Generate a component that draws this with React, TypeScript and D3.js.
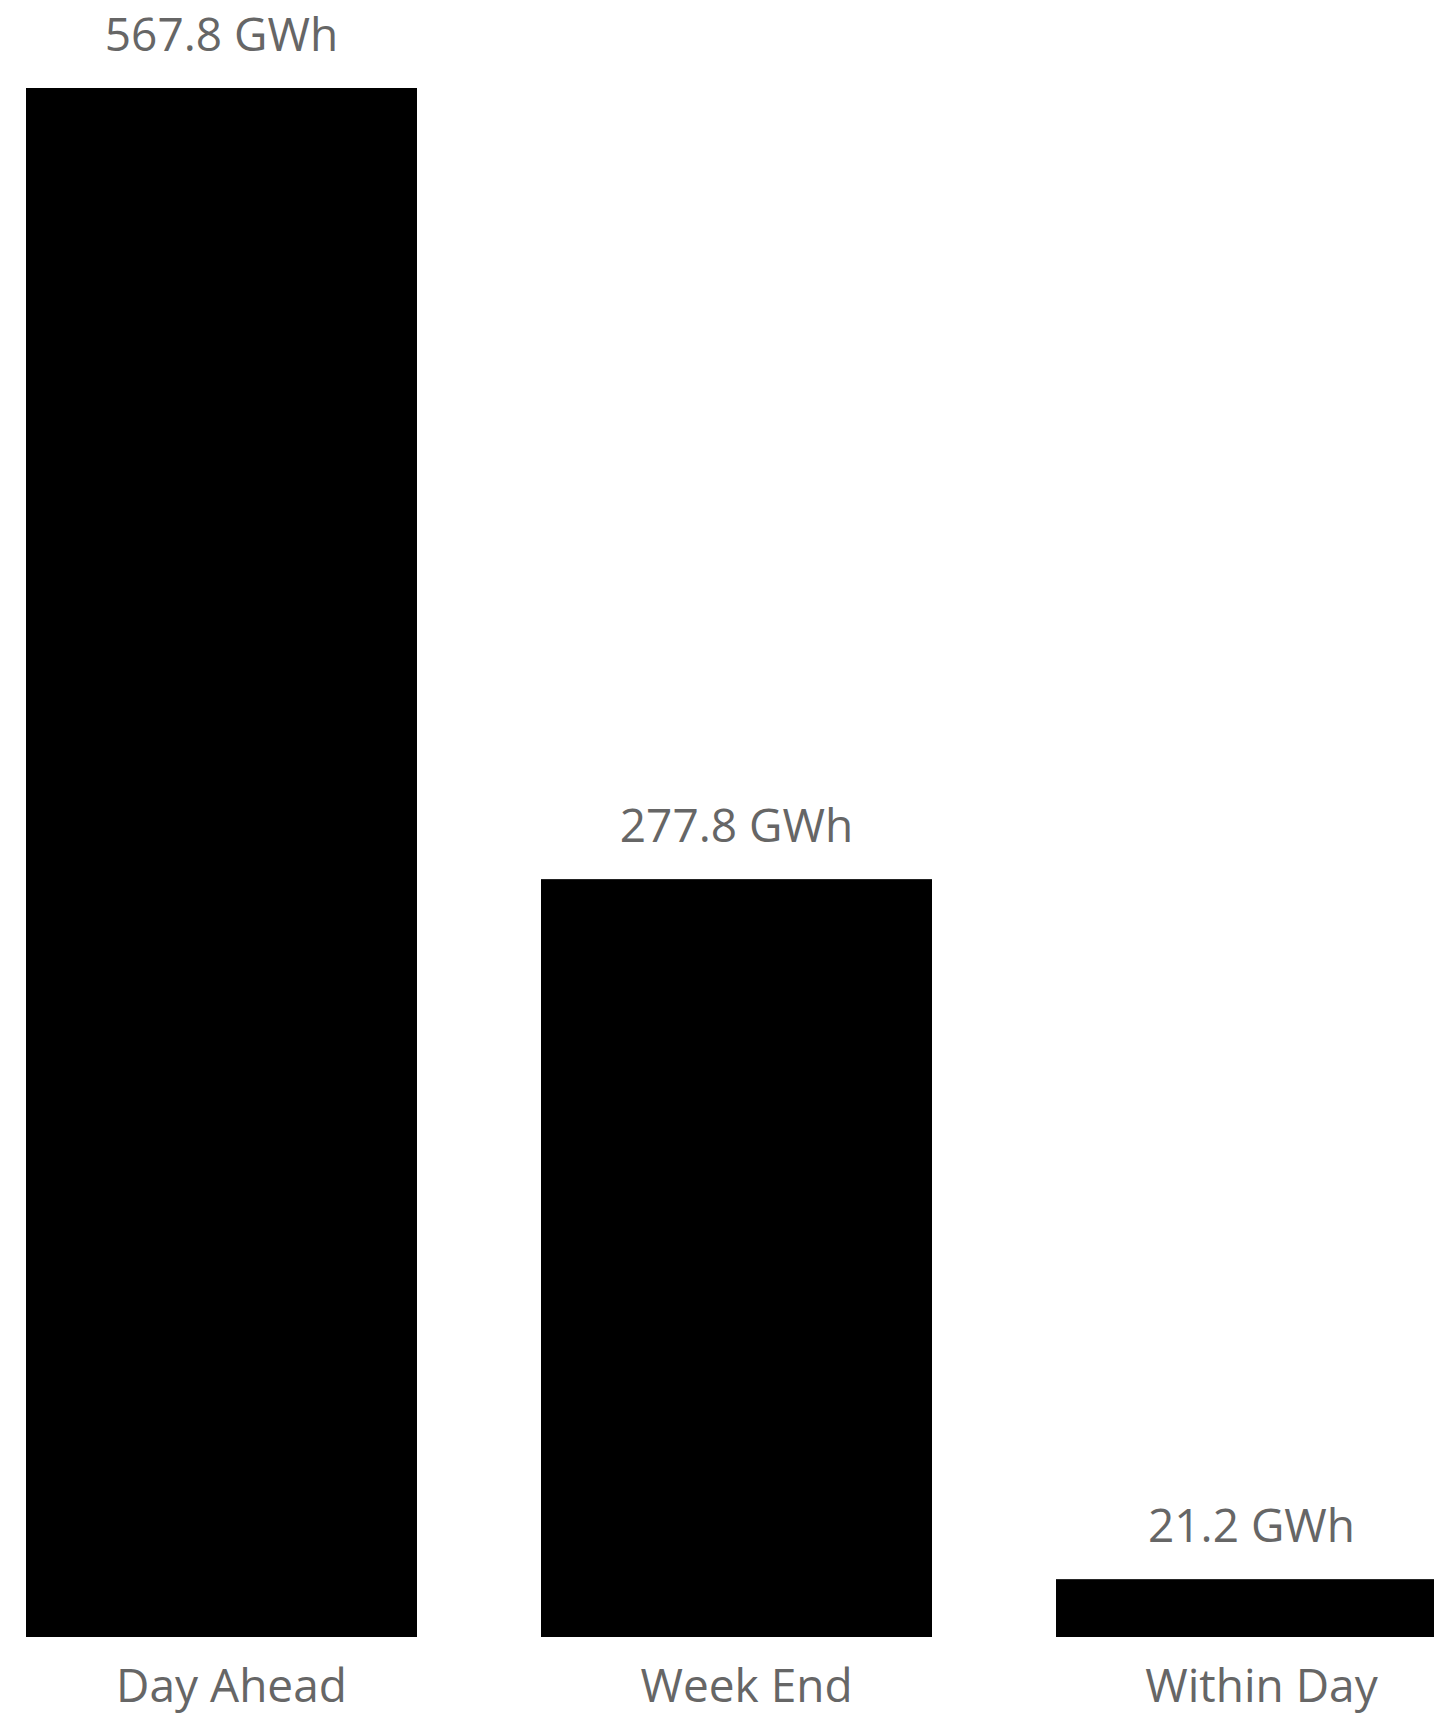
import React from "react";
import * as d3 from "d3";

const categories: string[] = ["Day Ahead", "Week End", "Within Day"];
const values: number[] = [567.8, 277.8, 21.2];
const unit = "GWh";

const W = 1434;
const H = 1715;

export default function App() {
  const x = d3
    .scaleBand<string>()
    .domain(categories)
    .range([26, 1447])
    .paddingInner(0.2408)
    .paddingOuter(0);
  const y = d3.scaleLinear().domain([0, 567.8]).range([1637, 88]);
  const fmt = d3.format(".1f");
  const font = "'Open Sans', 'Noto Sans', sans-serif";
  return (
    <div style={{ position: "absolute", left: 0, top: 0 }}>
      <svg width={W} height={H} style={{ display: "block" }}>
        <rect x={0} y={0} width={W} height={H} fill="#ffffff" />
        {categories.map((c, i) => {
          const bx = x(c) as number;
          const bw = x.bandwidth();
          const top = y(values[i]);
          return (
            <g key={c}>
              <rect x={bx} y={top} width={bw} height={y(0) - top} fill="#000000" />
              <text
                x={bx + bw / 2}
                y={top - 37}
                textAnchor="middle"
                fontFamily={font}
                fontSize={46}
                fill="#666666"
              >
                {`${fmt(values[i])} ${unit}`}
              </text>
              <text
                x={bx + bw / 2 + 10}
                y={1702}
                textAnchor="middle"
                fontFamily={font}
                fontSize={46}
                fill="#666666"
              >
                {c}
              </text>
            </g>
          );
        })}
      </svg>
    </div>
  );
}
